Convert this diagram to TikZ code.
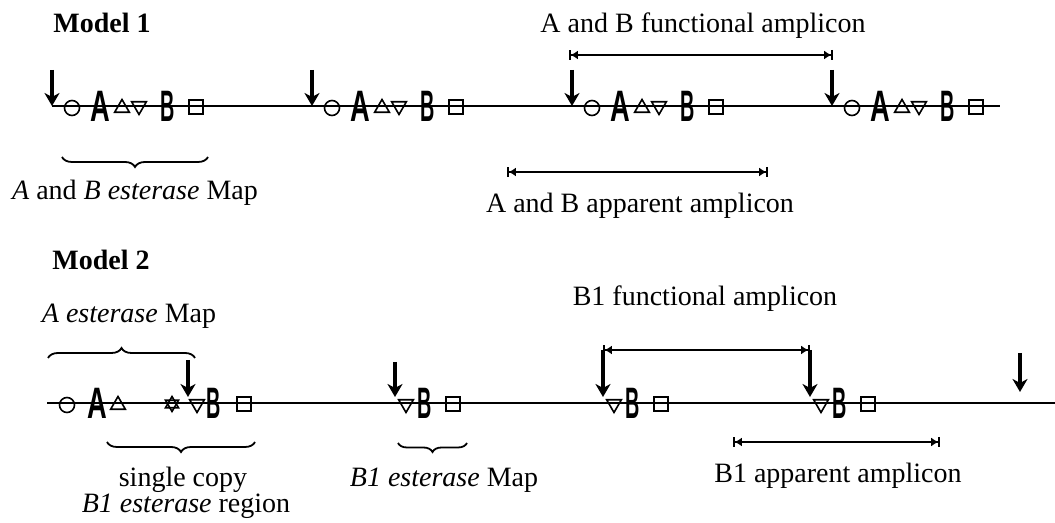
\documentclass[tikz,border=0pt]{standalone}
\usepackage{fontspec}
\setmainfont{Liberation Serif}
\setsansfont{Liberation Sans}
\usetikzlibrary{arrows.meta,positioning,calc,shapes.geometric,decorations.pathreplacing}
\tikzset{lbl/.style={font=\fontsize{14}{16}\selectfont,inner sep=0pt,anchor=base},hd/.style={lbl,font=\fontsize{14}{16}\selectfont\bfseries,anchor=base west},chrom/.style={line width=.75pt},site/.style={-{Stealth[length=6.5pt,width=7.5pt,inset=2pt]},line width=1.7pt},amp/.style={{Bar[width=5pt]Latex[length=3.5pt,width=4.5pt]}-{Latex[length=3.5pt,width=4.5pt]Bar[width=5pt]},line width=.9pt},brc/.style={decorate,decoration={brace,amplitude=5pt},line width=.9pt},gA/.style={font=\fontsize{22}{22}\selectfont\sffamily\bfseries,inner sep=0pt,xscale=.62},gB/.style={font=\fontsize{22}{22}\selectfont\sffamily\bfseries,inner sep=0pt,xscale=.45},circ/.style={draw,circle,inner sep=0pt,minimum size=7.5pt,line width=.8pt},up/.style={draw,regular polygon,regular polygon sides=3,inner sep=0pt,minimum size=8.5pt,line width=.8pt},dn/.style={up,shape border rotate=180},sq/.style={draw,rectangle,inner sep=0pt,minimum size=7pt,line width=.8pt}}
\begin{document}
\begin{tikzpicture}[x=.5pt,y=-.5pt]
\useasboundingbox (0,0) rectangle (1055,523);
\node[hd] (m1) at (53,33) {Model 1};
\foreach \g/\x in {1/52,2/312,3/572,4/832}{\coordinate (t\g) at (\x,70); \coordinate (s\g) at (\x,106);
\node[circ] (c\g) at (\x+20,108) {}; \node[gA] (A\g) at (\x+48,106) {A}; \node[up] (u\g) at (\x+70,108) {}; \node[dn] (d\g) at (\x+87,106) {}; \node[gB] (B\g) at (\x+116,106) {B}; \node[sq] (q\g) at (\x+144,107) {};
\draw[site] (t\g) -- (s\g);}
\coordinate (e1) at (1000,106);
\draw[chrom] (s1) -- (e1);
\coordinate (f1) at (569,55); \coordinate (f2) at (833,55);
\draw[amp] (f1) -- (f2);
\node[lbl] (fa) at (703,33) {A and B functional amplicon};
\coordinate (b1) at (208,157); \coordinate (b2) at (62,157);
\draw[brc] (b1) -- (b2);
\node[lbl] (em) at (135,200) {\textit{A} and \textit{B esterase} Map};
\coordinate (p1) at (507,172); \coordinate (p2) at (768,172);
\draw[amp] (p1) -- (p2);
\node[lbl] (pa) at (640,213) {A and B apparent amplicon};
\node[hd] (m2) at (52,270) {Model 2};
\node[lbl] (ea) at (129,323) {\textit{A esterase} Map};
\coordinate (b3) at (48,358); \coordinate (b4) at (195,358);
\draw[brc] (b3) -- (b4);
\coordinate (e2) at (47,403); \coordinate (e3) at (1055,403);
\draw[chrom] (e2) -- (e3);
\node[circ] (c5) at (67,405) {}; \node[gA] (A5) at (97,403) {A}; \node[up] (u5) at (118,405) {};
\node[up,minimum size=7.5pt] (h1) at (172,404) {}; \node[dn,minimum size=7.5pt] (h2) at (172,404) {};
\node[dn] (d5) at (197,404) {}; \node[gB] (B5) at (214,403) {B}; \node[sq] (q5) at (244,404) {};
\coordinate (t5) at (188,360); \coordinate (s5) at (188,397);
\draw[site] (t5) -- (s5);
\foreach \g/\x/\y in {6/395/362,7/603/350,8/810/350}{\coordinate (t\g) at (\x,\y); \coordinate (s\g) at (\x,397);
\node[dn] (d\g) at (\x+11,404) {}; \node[gB] (B\g) at (\x+30,403) {B}; \node[sq] (q\g) at (\x+58,404) {};
\draw[site] (t\g) -- (s\g);}
\coordinate (t9) at (1020,353); \coordinate (s9) at (1020,392);
\draw[site] (t9) -- (s9);
\draw[amp] (t7) -- (t8);
\node[lbl] (fb) at (705,306) {B1 functional amplicon};
\coordinate (b5) at (255,442); \coordinate (b6) at (107,442);
\draw[brc] (b5) -- (b6);
\node[lbl] (sc) at (183,487) {single copy};
\node[lbl] (sr) at (186,513) {\textit{B1 esterase} region};
\coordinate (b7) at (467,443); \coordinate (b8) at (398,443);
\draw[brc,decoration={amplitude=4.5pt}] (b7) -- (b8);
\node[lbl] (eb) at (444,487) {\textit{B1 esterase} Map};
\coordinate (p3) at (733,442); \coordinate (p4) at (940,442);
\draw[amp] (p3) -- (p4);
\node[lbl] (pb) at (838,482) {B1 apparent amplicon};
\end{tikzpicture}
\end{document}
